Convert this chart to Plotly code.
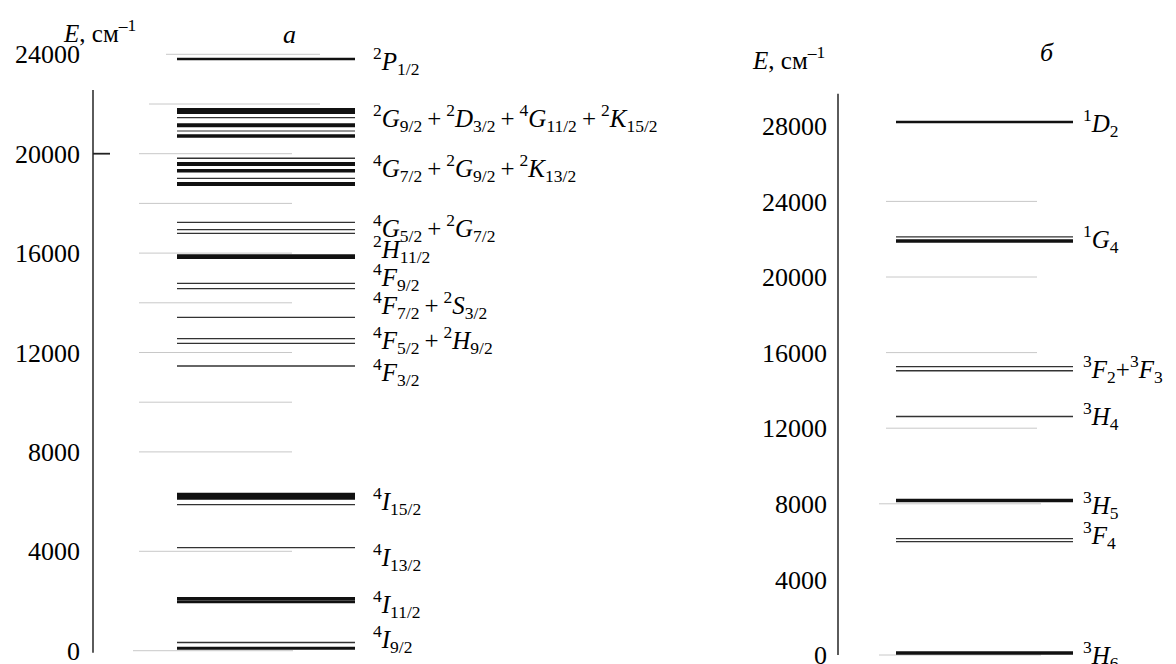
import plotly.graph_objects as go

# ---------------- data ----------------
# Panel "а" (left): energy levels, cm^-1
LEFT_LEVELS = [23810, 21716, 21449, 21143, 20913, 20712, 19815, 19586, 19316, 19010, 18781,
               17239, 16942, 16797, 15855, 14785, 14568, 13416, 12555, 12370, 11457,
               6213, 5875, 4145, 2098, 1965, 330, 97]
LEFT_WIDTHS = [2.5, 6, 1.2, 4, 1.2, 3.3, 1.5, 4, 3.5, 1.2, 4,
               1.3, 1.3, 1.3, 4.7, 1.3, 1.3, 1.3, 1.3, 1.3, 1.3,
               7, 1.3, 1.3, 3, 3, 1.3, 3]
LEFT_GRID = [24000, 22000, 20000, 18000, 16000, 14000, 12000, 10000, 8000, 4000, 0]
LEFT_TICKS = [0, 4000, 8000, 12000, 16000, 20000, 24000]
P = "\u2009+\u2009"
LEFT_LABELS = [
    "<sup>2</sup><i>P</i><sub>1/2</sub>",
    "<sup>2</sup><i>G</i><sub>9/2</sub>" + P + "<sup>2</sup><i>D</i><sub>3/2</sub>" + P +
    "<sup>4</sup><i>G</i><sub>11/2</sub>" + P + "<sup>2</sup><i>K</i><sub>15/2</sub>",
    "<sup>4</sup><i>G</i><sub>7/2</sub>" + P + "<sup>2</sup><i>G</i><sub>9/2</sub>" + P +
    "<sup>2</sup><i>K</i><sub>13/2</sub>",
    "<sup>4</sup><i>G</i><sub>5/2</sub>" + P + "<sup>2</sup><i>G</i><sub>7/2</sub>",
    "<sup>2</sup><i>H</i><sub>11/2</sub>",
    "<sup>4</sup><i>F</i><sub>9/2</sub>",
    "<sup>4</sup><i>F</i><sub>7/2</sub>" + P + "<sup>2</sup><i>S</i><sub>3/2</sub>",
    "<sup>4</sup><i>F</i><sub>5/2</sub>" + P + "<sup>2</sup><i>H</i><sub>9/2</sub>",
    "<sup>4</sup><i>F</i><sub>3/2</sub>",
    "<sup>4</sup><i>I</i><sub>15/2</sub>",
    "<sup>4</sup><i>I</i><sub>13/2</sub>",
    "<sup>4</sup><i>I</i><sub>11/2</sub>",
    "<sup>4</sup><i>I</i><sub>9/2</sub>",
]
LEFT_LABEL_E = [23730, 21436, 19425, 17010, 16165, 15058, 13911, 12503, 11215, 6044, 3790, 1879, 470]

# Panel "б" (right)
RIGHT_LEVELS = [28200, 22127, 21900, 15262, 15035, 12620, 8173, 6162, 5997, 100]
RIGHT_WIDTHS = [2.5, 1.3, 3.5, 1.3, 1.5, 1.5, 3.5, 1.2, 1.2, 3.5]
RIGHT_GRID = [24000, 20000, 16000, 12000, 8000, 0]
RIGHT_TICKS = [0, 4000, 8000, 12000, 16000, 20000, 24000, 28000]
RIGHT_LABELS = [
    "<sup>1</sup><i>D</i><sub>2</sub>",
    "<sup>1</sup><i>G</i><sub>4</sub>",
    "<sup>3</sup><i>F</i><sub>2</sub>+<sup>3</sup><i>F</i><sub>3</sub>",
    "<sup>3</sup><i>H</i><sub>4</sub>",
    "<sup>3</sup><i>H</i><sub>5</sub>",
    "<sup>3</sup><i>F</i><sub>4</sub>",
    "<sup>3</sup><i>H</i><sub>6</sub>",
]
RIGHT_LABEL_E = [28155, 22025, 15148, 12634, 7960, 6366, 20]

# ---------------- layout constants ----------------
# The page body has an 8 px margin, so the figure sits 8 px in from the
# top-left corner of the 1176x664 window; pixel constants are given in
# window pixels and shifted by OFF.
OFF = 8
W, H = 1176 - OFF, 664 - OFF
FONT = "Liberation Serif"


def px(x):
    return x - OFF


def py(y):
    return 1 - (y - OFF) / H


L_AXIS_X, R_AXIS_X = px(93), px(838)
L_LINE = (px(177), px(355))
R_LINE = (px(896), px(1073))
L_GRID_X = {24000: (px(166), px(320)), 22000: (px(149), px(320)), 0: (px(133), px(293))}
L_GRID_DEFAULT = (px(139), px(292))
R_GRID_X = {8000: (px(879), px(1041)), 0: (px(879), px(1041))}
R_GRID_DEFAULT = (px(886), px(1037))
L_RANGE = (-535, 25863)
R_RANGE = (-476, 34233)
L_AXIS_SPAN = (-80, 22560)
R_AXIS_SPAN = (0, 29700)
GRAY = "#c8c8c8"

fig = go.Figure()


def hline(x0, x1, e, width, color, yaxis):
    fig.add_trace(go.Scatter(x=[x0, x1], y=[e, e], mode="lines", yaxis=yaxis,
                             line=dict(color=color, width=width), hoverinfo="skip",
                             showlegend=False))


# light-gray guide lines
for e in LEFT_GRID:
    x0, x1 = L_GRID_X.get(e, L_GRID_DEFAULT)
    hline(x0, x1, e, 1, GRAY, "y")
for e in RIGHT_GRID:
    x0, x1 = R_GRID_X.get(e, R_GRID_DEFAULT)
    hline(x0, x1, e, 1, GRAY, "y2")

# energy levels
for e, w in zip(LEFT_LEVELS, LEFT_WIDTHS):
    hline(L_LINE[0], L_LINE[1], e, w, "#111111" if w > 2 else "#333333", "y")
for e, w in zip(RIGHT_LEVELS, RIGHT_WIDTHS):
    hline(R_LINE[0], R_LINE[1], e, w, "#111111" if w > 2 else "#333333", "y2")

# vertical axis lines and the single tick at 20000
fig.add_trace(go.Scatter(x=[L_AXIS_X, L_AXIS_X], y=list(L_AXIS_SPAN), mode="lines", yaxis="y",
                         line=dict(color="#333333", width=1.6), hoverinfo="skip", showlegend=False))
fig.add_trace(go.Scatter(x=[L_AXIS_X, L_AXIS_X + 17], y=[20000, 20000], mode="lines", yaxis="y",
                         line=dict(color="#222222", width=1.8), hoverinfo="skip", showlegend=False))
fig.add_trace(go.Scatter(x=[R_AXIS_X, R_AXIS_X], y=list(R_AXIS_SPAN), mode="lines", yaxis="y2",
                         line=dict(color="#333333", width=1.6), hoverinfo="skip", showlegend=False))

LABEL_FONT = dict(family=FONT, size=25, color="black")
ann = []
for txt, e in zip(LEFT_LABELS, LEFT_LABEL_E):
    ann.append(dict(x=px(371), y=e, xref="x", yref="y", text=txt, showarrow=False,
                    xanchor="left", yanchor="middle", font=LABEL_FONT))
for txt, e in zip(RIGHT_LABELS, RIGHT_LABEL_E):
    ann.append(dict(x=px(1081), y=e, xref="x", yref="y2", text=txt, showarrow=False,
                    xanchor="left", yanchor="middle", font=LABEL_FONT))

TITLE_FONT = dict(family=FONT, size=25, color="black")
ann.append(dict(x=px(61), y=py(31), xref="x", yref="paper", text="<i>E</i>, см<sup>–1</sup>",
                showarrow=False, xanchor="left", yanchor="middle", font=TITLE_FONT))
ann.append(dict(x=px(289), y=py(35), xref="x", yref="paper", text="<i>а</i>",
                showarrow=False, xanchor="center", yanchor="middle",
                font=dict(family=FONT, size=26, color="black")))
ann.append(dict(x=px(750), y=py(58), xref="x", yref="paper", text="<i>E</i>, см<sup>–1</sup>",
                showarrow=False, xanchor="left", yanchor="middle", font=TITLE_FONT))
ann.append(dict(x=px(1047), y=py(52), xref="x", yref="paper", text="<i>б</i>",
                showarrow=False, xanchor="center", yanchor="middle",
                font=dict(family=FONT, size=26, color="black")))

axis_common = dict(showgrid=False, zeroline=False, showline=False, ticks="",
                   ticklabeloverflow="allow", automargin=False,
                   tickfont=dict(family=FONT, size=26, color="black"), fixedrange=True)

fig.update_layout(
    width=W, height=H,
    margin=dict(l=0, r=0, t=0, b=0, autoexpand=False),
    paper_bgcolor="white", plot_bgcolor="white",
    showlegend=False,
    xaxis=dict(range=[0, W], domain=[0, 1], visible=False, fixedrange=True, automargin=False),
    yaxis=dict(range=list(L_RANGE), domain=[0, 1], anchor="free", position=L_AXIS_X / W,
               tickvals=LEFT_TICKS, ticktext=[str(v) for v in LEFT_TICKS],
               ticklabelstandoff=13, **axis_common),
    yaxis2=dict(range=list(R_RANGE), domain=[0, 1], anchor="free", position=R_AXIS_X / W,
                overlaying="y", side="left",
                tickvals=RIGHT_TICKS, ticktext=[str(v) for v in RIGHT_TICKS],
                ticklabelstandoff=11, **axis_common),
    annotations=ann,
)

fig.write_html("out.html", config={"displayModeBar": False})
